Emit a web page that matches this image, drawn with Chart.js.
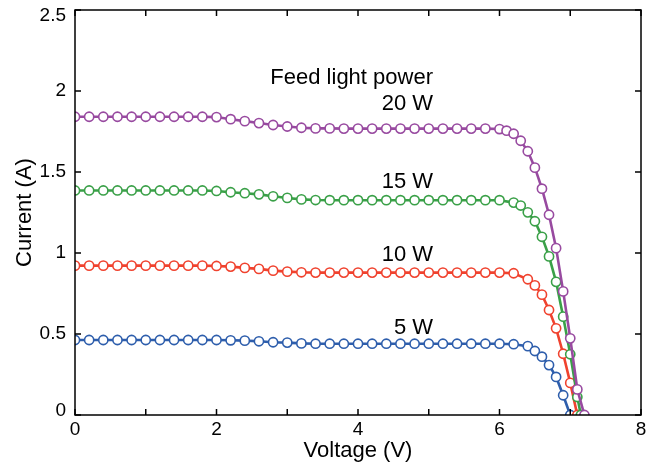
<!DOCTYPE html>
<html>
<head>
<meta charset="utf-8">
<script src="https://cdn.jsdelivr.net/npm/chart.js@4/dist/chart.umd.min.js"></script>
<style>
	html, body { margin: 0; padding: 0; background: #fff; }
	#wrap { width: 658px; height: 464px; }
</style>
</head>
<body>
<div id="wrap"><canvas id="ivChart"></canvas></div>
<script>
// Напряжение (V) и ток (A) для каждой мощности
const v20 = [0, 0.2, 0.4, 0.6, 0.8, 1.0, 1.2, 1.4, 1.6, 1.8, 2.0, 2.2, 2.4, 2.6, 2.8, 3.0, 3.2, 3.4, 3.6, 3.8, 4.0, 4.2, 4.4, 4.6, 4.8, 5.0, 5.2, 5.4, 5.6, 5.8, 6.0, 6.1, 6.2, 6.3, 6.4, 6.5, 6.6, 6.7, 6.8, 6.9, 7.0, 7.1, 7.2];
const i20 = [1.841, 1.841, 1.841, 1.841, 1.841, 1.841, 1.841, 1.841, 1.841, 1.841, 1.839, 1.826, 1.814, 1.802, 1.790, 1.781, 1.773, 1.769, 1.769, 1.768, 1.768, 1.768, 1.768, 1.768, 1.768, 1.768, 1.768, 1.768, 1.768, 1.768, 1.765, 1.755, 1.736, 1.693, 1.628, 1.527, 1.397, 1.236, 1.030, 0.763, 0.473, 0.158, 0];

const v15 = [0, 0.2, 0.4, 0.6, 0.8, 1.0, 1.2, 1.4, 1.6, 1.8, 2.0, 2.2, 2.4, 2.6, 2.8, 3.0, 3.2, 3.4, 3.6, 3.8, 4.0, 4.2, 4.4, 4.6, 4.8, 5.0, 5.2, 5.4, 5.6, 5.8, 6.0, 6.2, 6.3, 6.4, 6.5, 6.6, 6.7, 6.8, 6.9, 7.0, 7.1, 7.15];
const i15 = [1.386, 1.386, 1.386, 1.386, 1.386, 1.386, 1.386, 1.386, 1.386, 1.386, 1.383, 1.375, 1.369, 1.362, 1.350, 1.340, 1.331, 1.327, 1.326, 1.326, 1.326, 1.326, 1.326, 1.326, 1.326, 1.326, 1.326, 1.326, 1.326, 1.326, 1.326, 1.311, 1.293, 1.251, 1.196, 1.100, 0.979, 0.822, 0.607, 0.375, 0.111, 0];

const v10 = [0, 0.2, 0.4, 0.6, 0.8, 1.0, 1.2, 1.4, 1.6, 1.8, 2.0, 2.2, 2.4, 2.6, 2.8, 3.0, 3.2, 3.4, 3.6, 3.8, 4.0, 4.2, 4.4, 4.6, 4.8, 5.0, 5.2, 5.4, 5.6, 5.8, 6.0, 6.2, 6.4, 6.5, 6.6, 6.7, 6.8, 6.9, 7.0, 7.1];
const i10 = [0.922, 0.922, 0.922, 0.922, 0.922, 0.922, 0.922, 0.922, 0.922, 0.922, 0.920, 0.916, 0.908, 0.902, 0.891, 0.885, 0.881, 0.879, 0.879, 0.879, 0.879, 0.879, 0.879, 0.879, 0.879, 0.879, 0.879, 0.879, 0.879, 0.879, 0.879, 0.875, 0.838, 0.800, 0.743, 0.648, 0.535, 0.378, 0.198, 0];

const v5 = [0, 0.2, 0.4, 0.6, 0.8, 1.0, 1.2, 1.4, 1.6, 1.8, 2.0, 2.2, 2.4, 2.6, 2.8, 3.0, 3.2, 3.4, 3.6, 3.8, 4.0, 4.2, 4.4, 4.6, 4.8, 5.0, 5.2, 5.4, 5.6, 5.8, 6.0, 6.2, 6.4, 6.5, 6.6, 6.7, 6.8, 6.9, 7.0];
const i5 = [0.463, 0.463, 0.463, 0.463, 0.463, 0.463, 0.463, 0.463, 0.463, 0.463, 0.463, 0.461, 0.459, 0.455, 0.449, 0.447, 0.442, 0.440, 0.440, 0.440, 0.440, 0.440, 0.440, 0.440, 0.440, 0.440, 0.440, 0.440, 0.440, 0.440, 0.440, 0.437, 0.425, 0.395, 0.360, 0.308, 0.235, 0.122, 0];

const seriesNames = ['20 W', '15 W', '10 W', '5 W'];
const seriesColors = ['rgb(152, 74, 160)', 'rgb(58, 160, 72)', 'rgb(240, 66, 46)', 'rgb(46, 94, 172)'];
// подписи осей
const xTickLabels = ['0', '', '2', '', '4', '', '6', '', '8'];
const yTickLabels = ['0', '0.5', '1', '1.5', '2', '2.5'];
// положение подписей (V, A), текст выровнен вправо
const noteX = 5.06;
const noteY = [1.885, 1.402, 0.951, 0.500];
const headerText = 'Feed light power';
const headerY = 2.043;

const FONT = '"Liberation Sans", Arial, Helvetica, sans-serif';

const toPoints = (xs, ys) => xs.map((x, k) => ({ x: x, y: ys[k] }));
const allV = [v20, v15, v10, v5];
const allI = [i20, i15, i10, i5];

const datasets = seriesNames.map((name, k) => ({
	label: name,
	data: toPoints(allV[k], allI[k]),
	borderColor: seriesColors[k],
	backgroundColor: '#ffffff',
	borderWidth: 2.6,
	pointRadius: 4.6,
	pointBorderWidth: 1.6,
	pointBorderColor: seriesColors[k],
	pointBackgroundColor: '#ffffff',
	tension: 0
}));

// рамка, засечки внутрь, подписи делений и надписи
const frameTicks = {
	id: 'frameTicks',
	afterDatasetsDraw(chart) {
		const { ctx, chartArea: a, scales } = chart;
		const len = 6;
		ctx.save();
		ctx.strokeStyle = '#000';
		ctx.lineWidth = 1.5;
		ctx.strokeRect(a.left, a.top, a.right - a.left, a.bottom - a.top);
		ctx.beginPath();
		scales.x.ticks.forEach(t => {
			const px = scales.x.getPixelForValue(t.value);
			ctx.moveTo(px, a.bottom); ctx.lineTo(px, a.bottom - len);
			ctx.moveTo(px, a.top); ctx.lineTo(px, a.top + len);
		});
		scales.y.ticks.forEach(t => {
			const py = scales.y.getPixelForValue(t.value);
			ctx.moveTo(a.left, py); ctx.lineTo(a.left + len, py);
			ctx.moveTo(a.right, py); ctx.lineTo(a.right - len, py);
		});
		ctx.stroke();

		ctx.fillStyle = '#000';
		ctx.font = '19px ' + FONT;
		ctx.textBaseline = 'middle';
		ctx.textAlign = 'center';
		scales.x.ticks.forEach((t, k) => {
			ctx.fillText(xTickLabels[k] || '', scales.x.getPixelForValue(t.value), a.bottom + 15);
		});
		ctx.textAlign = 'right';
		const last = scales.y.ticks.length - 1;
		scales.y.ticks.forEach((t, k) => {
			let py = scales.y.getPixelForValue(t.value);
			if (k === 0) py -= 4;
			if (k === last) py += 6;
			ctx.fillText(yTickLabels[k] || '', a.left - 9, py);
		});

		ctx.font = '22px ' + FONT;
		ctx.textBaseline = 'alphabetic';
		const nx = scales.x.getPixelForValue(noteX);
		ctx.fillText(headerText, nx, scales.y.getPixelForValue(headerY));
		seriesNames.forEach((name, k) => {
			ctx.fillText(name, nx, scales.y.getPixelForValue(noteY[k]));
		});
		ctx.restore();
	}
};

const options = {
	responsive: true,
	maintainAspectRatio: false,
	animation: false,
	layout: {
		padding: { top: 10, right: 17, left: 0, bottom: 0 }
	},
	plugins: {
		legend: { display: false },
		tooltip: { enabled: false }
	},
	scales: {
		x: {
			type: 'linear',
			min: 0,
			max: 8,
			grid: { display: false, drawTicks: false },
			border: { display: false },
			ticks: { display: false, stepSize: 1, autoSkip: false },
			title: {
				display: true,
				text: 'Voltage (V)',
				color: '#000',
				padding: 0,
				font: { family: FONT, size: 22 }
			},
			afterFit: s => { s.height = 49; }
		},
		y: {
			min: 0,
			max: 2.5,
			grid: { display: false, drawTicks: false },
			border: { display: false },
			ticks: { display: false, stepSize: 0.5 },
			title: {
				display: true,
				text: 'Current (A)',
				color: '#000',
				padding: { top: 12, bottom: 0 },
				font: { family: FONT, size: 22 }
			},
			afterFit: s => { s.width = 75; }
		}
	}
};

window.addEventListener('load', () => {
	new Chart(document.getElementById('ivChart'), {
		type: 'line',
		data: { datasets: datasets },
		options: options,
		plugins: [frameTicks]
	});
});
</script>
</body>
</html>
